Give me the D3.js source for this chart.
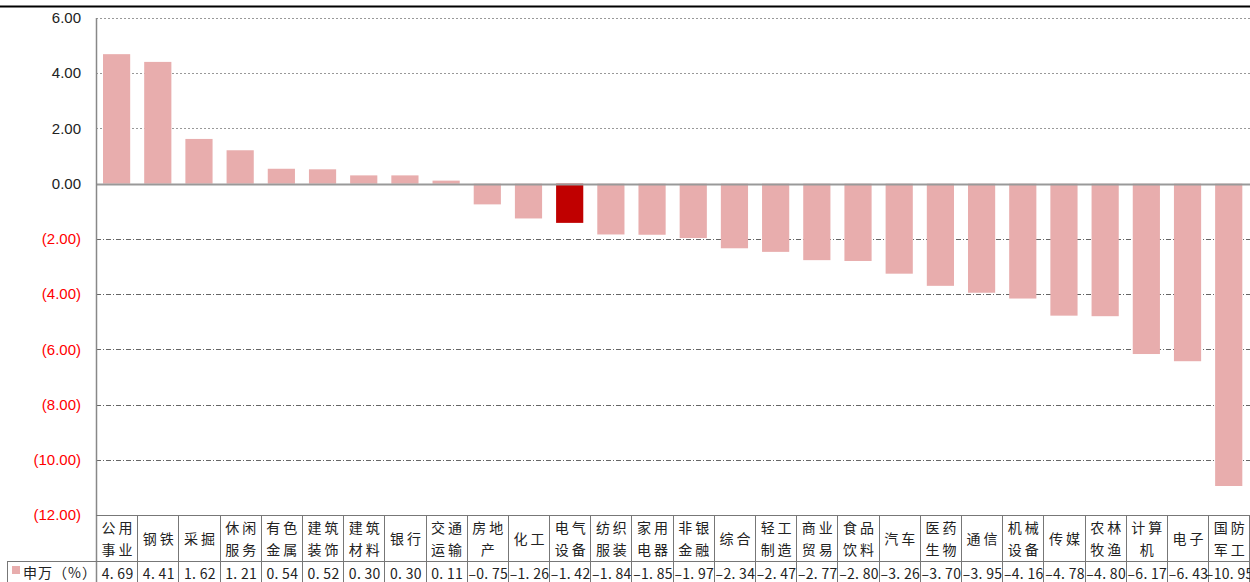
<!DOCTYPE html>
<html lang="zh-CN">
<head>
<meta charset="UTF-8">
<title>申万行业涨跌幅</title>
<style>
  body { margin: 0; padding: 0; background: #fff; }
  svg { display: block; }
  .ytick { font-family: Arial, "Liberation Sans", sans-serif; font-size: 15px; }
  .cat, .val, .legend { font-family: "Noto Sans CJK SC", sans-serif; font-size: 14px; fill: #222; }
</style>
</head>
<body>
<div id="chart"></div>
<script src="https://d3js.org/d3.v7.min.js"></script>
<script>
// 申万一级行业周涨跌幅 (%)
const categories = ["公用事业","钢铁","采掘","休闲服务","有色金属","建筑装饰","建筑材料","银行","交通运输","房地产",
  "化工","电气设备","纺织服装","家用电器","非银金融","综合","轻工制造","商业贸易","食品饮料","汽车",
  "医药生物","通信","机械设备","传媒","农林牧渔","计算机","电子","国防军工"];
const values = [4.69, 4.41, 1.62, 1.21, 0.54, 0.52, 0.30, 0.30, 0.11, -0.75,
  -1.26, -1.42, -1.84, -1.85, -1.97, -2.34, -2.47, -2.77, -2.80, -3.26,
  -3.70, -3.95, -4.16, -4.78, -4.80, -6.17, -6.43, -10.95];
const highlight = "电气设备";
const yTicks = [6, 4, 2, 0, -2, -4, -6, -8, -10, -12];
const seriesName = "申万（%）";

const W = 1250, H = 582;
const plotLeft = 96, plotTop = 18, plotBottom = 515;
const step = 41.19;

const svg = d3.select("#chart").append("svg").attr("width", W).attr("height", H);

const xCol = d3.scaleBand().domain(categories).range([plotLeft, plotLeft + step * categories.length]).padding(0);
const xBar = xCol.copy().paddingInner(0.34).paddingOuter(0.17);
const y = d3.scaleLinear().domain([-12, 6]).range([plotBottom, plotTop]);

// top rule
svg.append("line").attr("x1", 0).attr("x2", W).attr("y1", 6.5).attr("y2", 6.5)
  .attr("stroke", "#000").attr("stroke-width", 2);

// gridlines
svg.selectAll("line.grid").data(yTicks.filter(t => t !== 0 && t !== -12)).enter().append("line")
  .attr("class", "grid")
  .attr("x1", plotLeft).attr("x2", W)
  .attr("y1", d => Math.round(y(d)) + 0.5).attr("y2", d => Math.round(y(d)) + 0.5)
  .attr("stroke", d => d > 0 ? "#999" : "#666")
  .attr("stroke-width", 1)
  .attr("stroke-dasharray", d => d > 0 ? "2,2" : "5,2,1,2");

// tick labels
svg.selectAll("text.ytick").data(yTicks).enter().append("text")
  .attr("class", "ytick")
  .attr("x", 81).attr("y", d => y(d)).attr("dy", "0.35em")
  .attr("text-anchor", "end")
  .attr("fill", d => d < 0 ? "#ff0000" : "#222")
  .text(d => d < 0 ? "(" + Math.abs(d).toFixed(2) + ")" : d.toFixed(2));

// bars
svg.selectAll("rect.bar").data(categories).enter().append("rect")
  .attr("class", "bar")
  .attr("x", d => xBar(d))
  .attr("width", xBar.bandwidth())
  .attr("y", (d, i) => y(Math.max(0, values[i])))
  .attr("height", (d, i) => Math.abs(y(values[i]) - y(0)))
  .attr("fill", d => d === highlight ? "#c00000" : "#e8adad");

// zero line + y axis
svg.append("line").attr("x1", plotLeft).attr("x2", W).attr("y1", Math.round(y(0)) + 0.5).attr("y2", Math.round(y(0)) + 0.5)
  .attr("stroke", "#999").attr("stroke-width", 2);
svg.append("line").attr("x1", plotLeft + 0.5).attr("x2", plotLeft + 0.5).attr("y1", plotTop).attr("y2", H)
  .attr("stroke", "#888").attr("stroke-width", 1.5);

// data table
const rowTop = plotBottom, rowMid = 561;
const tbl = svg.append("g").attr("stroke", "#777").attr("stroke-width", 1);
tbl.append("line").attr("x1", plotLeft).attr("x2", W).attr("y1", rowTop + 0.5).attr("y2", rowTop + 0.5);
tbl.append("line").attr("x1", 7).attr("x2", W).attr("y1", rowMid + 0.5).attr("y2", rowMid + 0.5);
tbl.append("line").attr("x1", 7.5).attr("x2", 7.5).attr("y1", rowMid).attr("y2", H);
tbl.selectAll("line.col").data(categories).enter().append("line")
  .attr("class", "col")
  .attr("x1", d => Math.round(xCol(d) + step) + 0.5).attr("x2", d => Math.round(xCol(d) + step) + 0.5)
  .attr("y1", rowTop).attr("y2", H);

// category names (two lines for long names)
const splitName = n => n.length <= 2 ? [n] : [n.slice(0, 2), n.slice(2)];
const cats = svg.selectAll("text.cat").data(categories).enter().append("text")
  .attr("class", "cat")
  .attr("text-anchor", "middle")
  .attr("font-size", "15px")
  .attr("letter-spacing", "3px");
cats.each(function (d) {
  const lines = splitName(d);
  const cx = xCol(d) + step / 2 + 2;
  const t = d3.select(this);
  if (lines.length === 1) {
    t.append("tspan").attr("x", cx).attr("y", 544).text(lines[0]);
  } else {
    t.append("tspan").attr("x", cx).attr("y", 533).text(lines[0]);
    t.append("tspan").attr("x", cx).attr("y", 555).text(lines[1]);
  }
});

// values
svg.selectAll("text.val").data(values).enter().append("text")
  .attr("class", "val")
  .attr("x", (d, i) => xCol(categories[i]) + step / 2 + 1)
  .attr("y", 579)
  .attr("text-anchor", "middle")
  .attr("font-size", "16px")
  .attr("letter-spacing", "0.3px")
  .text(d => d.toFixed(2).replace(".", ". ").replace("-", "–"));

// legend cell
svg.append("rect").attr("x", 12).attr("y", 566).attr("width", 8).attr("height", 8).attr("fill", "#e8adad");
svg.append("text").attr("class", "legend").attr("x", 23).attr("y", 578).attr("font-size", "15px")
  .attr("letter-spacing", "1px").text(seriesName);
</script>
</body>
</html>
